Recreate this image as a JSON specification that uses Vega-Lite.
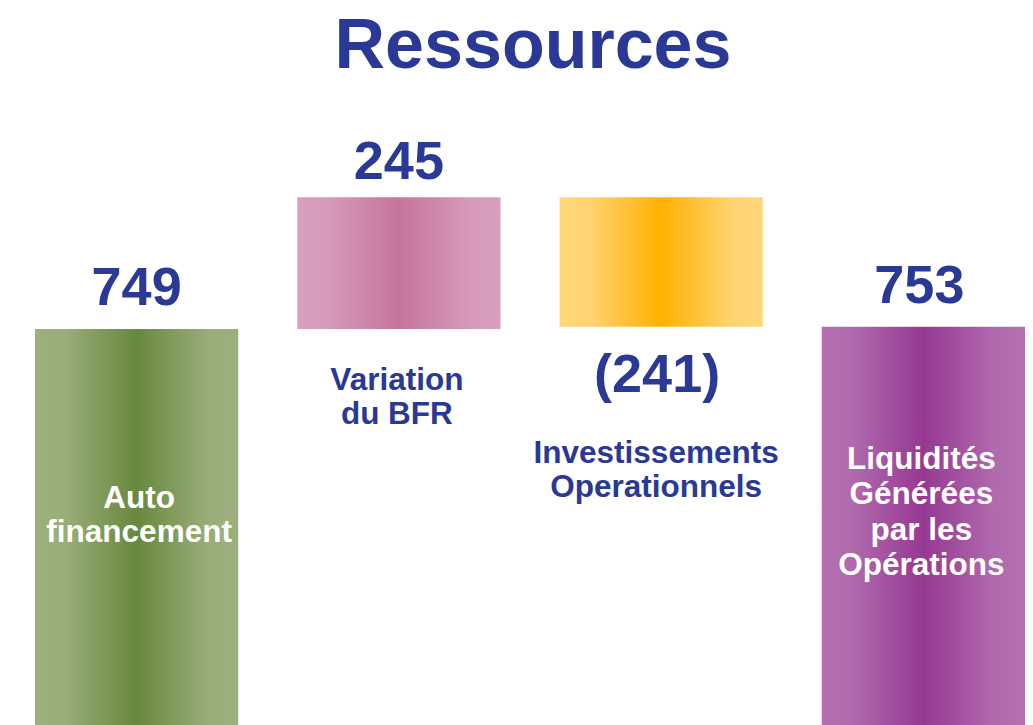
{
  "$schema": "https://vega.github.io/schema/vega-lite/v6.json",
  "width": 990,
  "height": 635,
  "autosize": {"type": "none"},
  "padding": {"left": 35, "right": 8, "top": 90, "bottom": 0},
  "background": "white",
  "config": {"view": {"stroke": null}},
  "title": {
    "text": "Ressources",
    "fontSize": 70,
    "font": "Liberation Sans",
    "fontWeight": "bold",
    "color": "#2a3896",
    "anchor": "middle",
    "frame": "group",
    "baseline": "alphabetic",
    "offset": -48,
    "dx": 3
  },
  "data": {
    "values": [
      {"cat": "Auto financement", "start": 0, "end": 749, "value": "749", "label": "Auto\nfinancement"},
      {"cat": "Variation du BFR", "start": 749, "end": 994, "value": "245", "label": "Variation\ndu BFR"},
      {"cat": "Investissements Operationnels", "start": 994, "end": 753, "value": "(241)", "label": "Investissements\nOperationnels"},
      {"cat": "Liquidités Générées par les Opérations", "start": 0, "end": 753, "value": "753", "label": "Liquidités\nGénérées\npar les\nOpérations"}
    ]
  },
  "encoding": {
    "x": {"field": "cat", "type": "nominal", "sort": null, "axis": null, "scale": {"paddingInner": 0.225, "paddingOuter": 0}},
    "y": {"field": "end", "type": "quantitative", "axis": null, "scale": {"domain": [12.3, 1193.5], "zero": false, "nice": false}}
  },
  "layer": [
    {
      "transform": [{"filter": "datum.cat === 'Auto financement'"}],
      "mark": {"type": "bar", "clip": true, "color": {"gradient": "linear", "x1": 0, "x2": 1, "y1": 0, "y2": 0, "stops": [{"offset": 0, "color": "#9cb07e"}, {"offset": 0.15, "color": "#98ad78"}, {"offset": 0.5, "color": "#68883e"}, {"offset": 0.85, "color": "#98ad78"}, {"offset": 1, "color": "#9cb07e"}]}},
      "encoding": {"y2": {"field": "start"}}
    },
    {
      "transform": [{"filter": "datum.cat === 'Variation du BFR'"}],
      "mark": {"type": "bar", "clip": true, "color": {"gradient": "linear", "x1": 0, "x2": 1, "y1": 0, "y2": 0, "stops": [{"offset": 0, "color": "#d8a0be"}, {"offset": 0.15, "color": "#d59ab9"}, {"offset": 0.5, "color": "#c6749e"}, {"offset": 0.85, "color": "#d59ab9"}, {"offset": 1, "color": "#d8a0be"}]}},
      "encoding": {"y2": {"field": "start"}}
    },
    {
      "transform": [{"filter": "datum.cat === 'Investissements Operationnels'"}],
      "mark": {"type": "bar", "clip": true, "color": {"gradient": "linear", "x1": 0, "x2": 1, "y1": 0, "y2": 0, "stops": [{"offset": 0, "color": "#ffd77a"}, {"offset": 0.15, "color": "#ffd370"}, {"offset": 0.5, "color": "#ffb100"}, {"offset": 0.85, "color": "#ffd370"}, {"offset": 1, "color": "#ffd77a"}]}},
      "encoding": {"y2": {"field": "start"}}
    },
    {
      "transform": [{"filter": "datum.cat === 'Liquidités Générées par les Opérations'"}],
      "mark": {"type": "bar", "clip": true, "color": {"gradient": "linear", "x1": 0, "x2": 1, "y1": 0, "y2": 0, "stops": [{"offset": 0, "color": "#b470b2"}, {"offset": 0.15, "color": "#b06aae"}, {"offset": 0.5, "color": "#963892"}, {"offset": 0.85, "color": "#b06aae"}, {"offset": 1, "color": "#b470b2"}]}},
      "encoding": {"y2": {"field": "start"}}
    },
    {
      "transform": [{"filter": "datum.cat === 'Auto financement'"}],
      "mark": {"type": "text", "font": "Liberation Sans", "fontWeight": "bold", "fontSize": 54, "color": "#2a3896", "baseline": "alphabetic", "align": "center", "dy": -24},
      "encoding": {"text": {"field": "value"}}
    },
    {
      "transform": [{"filter": "datum.cat === 'Liquidités Générées par les Opérations'"}],
      "mark": {"type": "text", "font": "Liberation Sans", "fontWeight": "bold", "fontSize": 54, "color": "#2a3896", "baseline": "alphabetic", "align": "center", "dy": -24, "dx": -4},
      "encoding": {"text": {"field": "value"}}
    },
    {
      "transform": [{"filter": "datum.cat === 'Variation du BFR'"}],
      "mark": {"type": "text", "font": "Liberation Sans", "fontWeight": "bold", "fontSize": 54, "color": "#2a3896", "baseline": "alphabetic", "align": "center", "dy": -18},
      "encoding": {"text": {"field": "value"}}
    },
    {
      "transform": [{"filter": "datum.cat === 'Investissements Operationnels'"}],
      "mark": {"type": "text", "font": "Liberation Sans", "fontWeight": "bold", "fontSize": 54, "color": "#2a3896", "baseline": "alphabetic", "align": "center", "dy": 65, "dx": -4},
      "encoding": {"text": {"field": "value"}}
    },
    {
      "transform": [{"filter": "datum.cat === 'Auto financement'"}],
      "mark": {"type": "text", "font": "Liberation Sans", "fontWeight": "bold", "fontSize": 31.5, "color": "white", "baseline": "alphabetic", "align": "center", "lineBreak": "\n", "lineHeight": 34, "dy": 179, "dx": 2.5},
      "encoding": {"text": {"field": "label"}}
    },
    {
      "transform": [{"filter": "datum.cat === 'Variation du BFR'"}],
      "mark": {"type": "text", "font": "Liberation Sans", "fontWeight": "bold", "fontSize": 31.5, "color": "#2a3896", "baseline": "alphabetic", "align": "center", "lineBreak": "\n", "lineHeight": 34, "dy": 61, "dx": -2},
      "encoding": {"y": {"field": "start", "type": "quantitative"}, "text": {"field": "label"}}
    },
    {
      "transform": [{"filter": "datum.cat === 'Investissements Operationnels'"}],
      "mark": {"type": "text", "font": "Liberation Sans", "fontWeight": "bold", "fontSize": 31.5, "color": "#2a3896", "baseline": "alphabetic", "align": "center", "lineBreak": "\n", "lineHeight": 34.5, "dy": 136, "dx": -5},
      "encoding": {"text": {"field": "label"}}
    },
    {
      "transform": [{"filter": "datum.cat === 'Liquidités Générées par les Opérations'"}],
      "mark": {"type": "text", "font": "Liberation Sans", "fontWeight": "bold", "fontSize": 31.5, "color": "white", "baseline": "alphabetic", "align": "center", "lineBreak": "\n", "lineHeight": 35.5, "dy": 142, "dx": -2},
      "encoding": {"text": {"field": "label"}}
    }
  ]
}
